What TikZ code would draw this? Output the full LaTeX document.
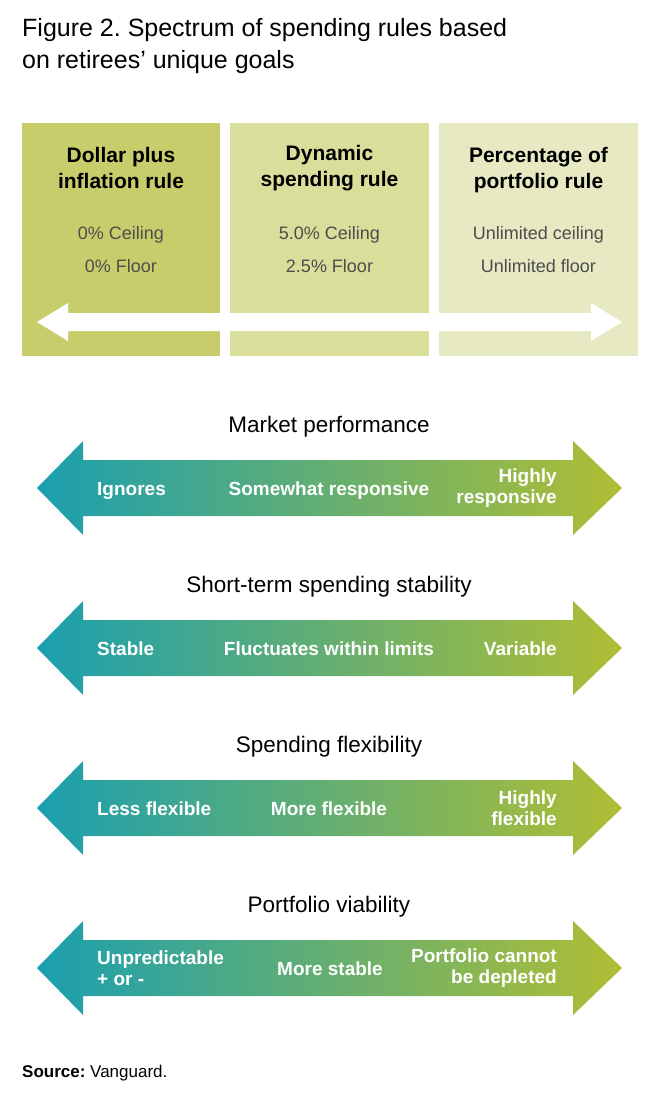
\documentclass[tikz,border=0pt]{standalone}
\usepackage{fontspec}
\setmainfont{Liberation Sans}
\usetikzlibrary{positioning}
\definecolor{ruleolive}{HTML}{C8CD6B}
\definecolor{rulesage}{HTML}{D9DE9B}
\definecolor{rulecream}{HTML}{E6E9C2}
\definecolor{specteal}{HTML}{1A9FB0}
\definecolor{specmint}{HTML}{5DB48C}
\definecolor{speclime}{HTML}{B0BE33}
\definecolor{limitgray}{HTML}{4D4D4D}
\frenchspacing
\tikzset{
  rulebox/.style={minimum width=198.5pt, minimum height=233pt, inner sep=0pt},
  ruletitle/.style={font=\fontsize{21}{25.5}\selectfont\bfseries, align=center, anchor=base},
  rulelimit/.style={font=\fontsize{18}{33}\selectfont, text=limitgray, align=center, anchor=base},
  axistitle/.style={font=\fontsize{22.5}{27}\selectfont, anchor=base},
  speclabel/.style={font=\fontsize{19}{21}\selectfont\bfseries, text=white, inner sep=0pt},
}

\begin{document}
\begin{tikzpicture}[x=1pt, y=-1pt]
  \useasboundingbox (0,0) rectangle (657,1101);
  \fill[white] (0,0) rectangle (657,1101);

  % Titre
  \node[font=\fontsize{25}{32}\selectfont, anchor=base west, inner sep=0pt] (title1) at (22,36) {Figure 2. Spectrum of spending rules based};
  \node[font=\fontsize{25}{32}\selectfont, anchor=base west, inner sep=0pt] (title2) at (22,68) {on retirees’ unique goals};

  % Trois règles
  \node[rulebox, fill=ruleolive] (dollarbox) at (121,239.5) {};
  \node[rulebox, fill=rulesage] (dynamicbox) at (329.5,239.5) {};
  \node[rulebox, fill=rulecream] (percentbox) at (538.5,239.5) {};

  \node[ruletitle] (dollarname) at (121,188) {Dollar plus\\inflation rule};
  \node[ruletitle] (dynamicname) at (329.5,186) {Dynamic\\spending rule};
  \node[ruletitle] (percentname) at (538.5,188) {Percentage of\\portfolio rule};

  \node[rulelimit] (dollarlimit) at (121,272) {0\% Ceiling\\0\% Floor};
  \node[rulelimit] (dynamiclimit) at (329.5,272) {5.0\% Ceiling\\2.5\% Floor};
  \node[rulelimit] (percentlimit) at (538.5,272) {Unlimited ceiling\\Unlimited floor};

  % Flèche blanche
  \fill[white] (37,322) -- (68,303) -- (68,313) -- (591,313) -- (591,303) -- (622,322)
    -- (591,341) -- (591,331) -- (68,331) -- (68,341) -- cycle;

  % Flèches dégradées
  \foreach \cy in {488,648,808,968}
    \shade[left color=specteal, middle color=specmint, right color=speclime]
      (37,\cy) -- (83,\cy-47) -- (83,\cy-28) -- (573,\cy-28) -- (573,\cy-47) -- (622,\cy)
      -- (573,\cy+47) -- (573,\cy+28) -- (83,\cy+28) -- (83,\cy+47) -- cycle;

  % Market performance
  \node[axistitle] (markettitle) at (329,432) {Market performance};
  \node[speclabel, anchor=base west] (marketlow) at (97,495) {Ignores};
  \node[speclabel, anchor=base] (marketmid) at (329,495) {Somewhat responsive};
  \node[speclabel, anchor=east, align=right] (markethigh) at (557,488) {Highly\\responsive};

  % Short-term spending stability
  \node[axistitle] (stabletitle) at (329,592) {Short-term spending stability};
  \node[speclabel, anchor=base west] (stablelow) at (97,655) {Stable};
  \node[speclabel, anchor=base] (stablemid) at (329,655) {Fluctuates within limits};
  \node[speclabel, anchor=base east] (stablehigh) at (557,655) {Variable};

  % Spending flexibility
  \node[axistitle] (flextitle) at (329,752) {Spending flexibility};
  \node[speclabel, anchor=base west] (flexlow) at (97,815) {Less flexible};
  \node[speclabel, anchor=base] (flexmid) at (329,815) {More flexible};
  \node[speclabel, anchor=east, align=right] (flexhigh) at (557,808) {Highly\\flexible};

  % Portfolio viability
  \node[axistitle] (viabletitle) at (329,912) {Portfolio viability};
  \node[speclabel, anchor=west, align=left] (viablelow) at (97,968) {Unpredictable\\+ or -};
  \node[speclabel, anchor=base] (viablemid) at (330,975) {More stable};
  \node[speclabel, anchor=east, align=right] (viablehigh) at (557,968) {Portfolio cannot\\be depleted};

  % Source
  \node[font=\fontsize{17}{20}\selectfont, anchor=base west, inner sep=0pt] (source) at (22,1077) {\textbf{Source:} Vanguard.};
\end{tikzpicture}
\end{document}
